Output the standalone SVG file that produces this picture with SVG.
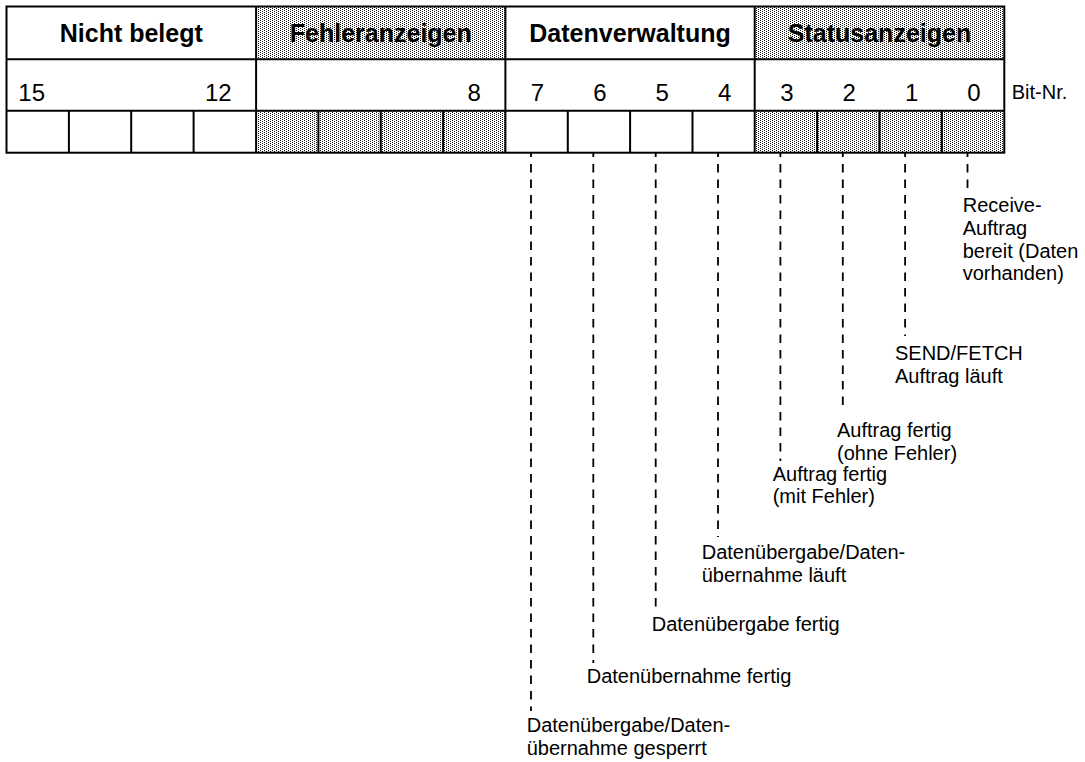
<svg xmlns="http://www.w3.org/2000/svg" width="1085" height="762" viewBox="0 0 1085 762">
<defs>
<pattern id="dots" patternUnits="userSpaceOnUse" width="4" height="2">
<rect width="4" height="2" fill="#ffffff"/>
<rect x="0" y="0" width="1" height="1" fill="#1a1a1a"/>
<rect x="2" y="1" width="1" height="1" fill="#1a1a1a"/>
</pattern>
</defs>
<style>
.grid{stroke:#000;stroke-width:2;fill:none}
.shade{fill:url(#dots)}
.hd{font-family:"Liberation Sans",Arial,sans-serif;font-weight:bold;font-size:25px;text-anchor:middle;fill:#000}
.num{font-family:"Liberation Sans",Arial,sans-serif;font-size:24px;fill:#000}
.lbl{font-family:"Liberation Sans",Arial,sans-serif;font-size:20px;fill:#000}
.dash{stroke:#000;stroke-width:1.8;stroke-dasharray:8.5 7;stroke-dashoffset:4.5;fill:none}
</style>
<rect width="1085" height="762" fill="#ffffff"/>
<g id="table">
<rect class="shade" x="256.1" y="6.5" width="249" height="52.8"/>
<rect class="shade" x="754.7" y="6.5" width="249.6" height="52.8"/>
<rect class="shade" x="256.1" y="110.7" width="249" height="42"/>
<rect class="shade" x="754.7" y="110.7" width="249.6" height="42"/>
<rect class="grid" x="6.5" y="6.5" width="997.8" height="146.2"/>
<line class="grid" x1="6.5" y1="59.3" x2="1004.3" y2="59.3"/>
<line class="grid" x1="6.5" y1="110.7" x2="1004.3" y2="110.7"/>
<line class="grid" x1="256.1" y1="6.5" x2="256.1" y2="152.7"/>
<line class="grid" x1="505.4" y1="6.5" x2="505.4" y2="152.7"/>
<line class="grid" x1="754.7" y1="6.5" x2="754.7" y2="152.7"/>
<path class="grid" d="M68.9 110.7V152.7M131.2 110.7V152.7M193.6 110.7V152.7M318.4 110.7V152.7M380.8 110.7V152.7M443.1 110.7V152.7M567.8 110.7V152.7M630.1 110.7V152.7M692.5 110.7V152.7M817.1 110.7V152.7M879.5 110.7V152.7M941.9 110.7V152.7"/>
</g>
<g id="headers">
<text class="hd" x="131.3" y="41.7">Nicht belegt</text>
<text class="hd" x="380.8" y="41.7">Fehleranzeigen</text>
<text class="hd" x="630" y="41.7">Datenverwaltung</text>
<text class="hd" x="879.5" y="41.7">Statusanzeigen</text>
</g>
<g id="bitnumbers">
<text class="num" x="18.3" y="101">15</text>
<text class="num" x="231.7" y="101" text-anchor="end">12</text>
<text class="num" x="474.3" y="101" text-anchor="middle">8</text>
<text class="num" x="537.5" y="101" text-anchor="middle">7</text>
<text class="num" x="599.9" y="101" text-anchor="middle">6</text>
<text class="num" x="662.3" y="101" text-anchor="middle">5</text>
<text class="num" x="724.6" y="101" text-anchor="middle">4</text>
<text class="num" x="787" y="101" text-anchor="middle">3</text>
<text class="num" x="849.3" y="101" text-anchor="middle">2</text>
<text class="num" x="911.7" y="101" text-anchor="middle">1</text>
<text class="num" x="974" y="101" text-anchor="middle">0</text>
<text class="lbl" x="1011.7" y="99">Bit-Nr.</text>
</g>
<g id="connectors">
<line class="dash" x1="531" y1="153" x2="531" y2="711"/>
<line class="dash" x1="593.3" y1="153" x2="593.3" y2="663"/>
<line class="dash" x1="655.7" y1="153" x2="655.7" y2="612"/>
<line class="dash" x1="718" y1="153" x2="718" y2="537"/>
<line class="dash" x1="780.4" y1="153" x2="780.4" y2="461"/>
<line class="dash" x1="842.8" y1="153" x2="842.8" y2="410"/>
<line class="dash" x1="905.1" y1="153" x2="905.1" y2="336"/>
<line class="dash" x1="967.5" y1="153" x2="967.5" y2="188"/>
</g>
<g id="label-bit0">
<text class="lbl" x="962.7" y="212">Receive-</text>
<text class="lbl" x="962.7" y="235">Auftrag</text>
<text class="lbl" x="962.7" y="257.5">bereit (Daten</text>
<text class="lbl" x="962.7" y="280">vorhanden)</text>
</g>
<g id="label-bit1">
<text class="lbl" x="895" y="360">SEND/FETCH</text>
<text class="lbl" x="895" y="382.5">Auftrag läuft</text>
</g>
<g id="label-bit2">
<text class="lbl" x="837" y="437">Auftrag fertig</text>
<text class="lbl" x="837" y="460">(ohne Fehler)</text>
</g>
<g id="label-bit3">
<text class="lbl" x="772.7" y="481">Auftrag fertig</text>
<text class="lbl" x="772.7" y="503">(mit Fehler)</text>
</g>
<g id="label-bit4">
<text class="lbl" x="701.7" y="559">Datenübergabe/Daten-</text>
<text class="lbl" x="701.7" y="582">übernahme läuft</text>
</g>
<g id="label-bit5">
<text class="lbl" x="651.7" y="631">Datenübergabe fertig</text>
</g>
<g id="label-bit6">
<text class="lbl" x="586.7" y="683">Datenübernahme fertig</text>
</g>
<g id="label-bit7">
<text class="lbl" x="526.7" y="732">Datenübergabe/Daten-</text>
<text class="lbl" x="526.7" y="755">übernahme gesperrt</text>
</g>
</svg>
